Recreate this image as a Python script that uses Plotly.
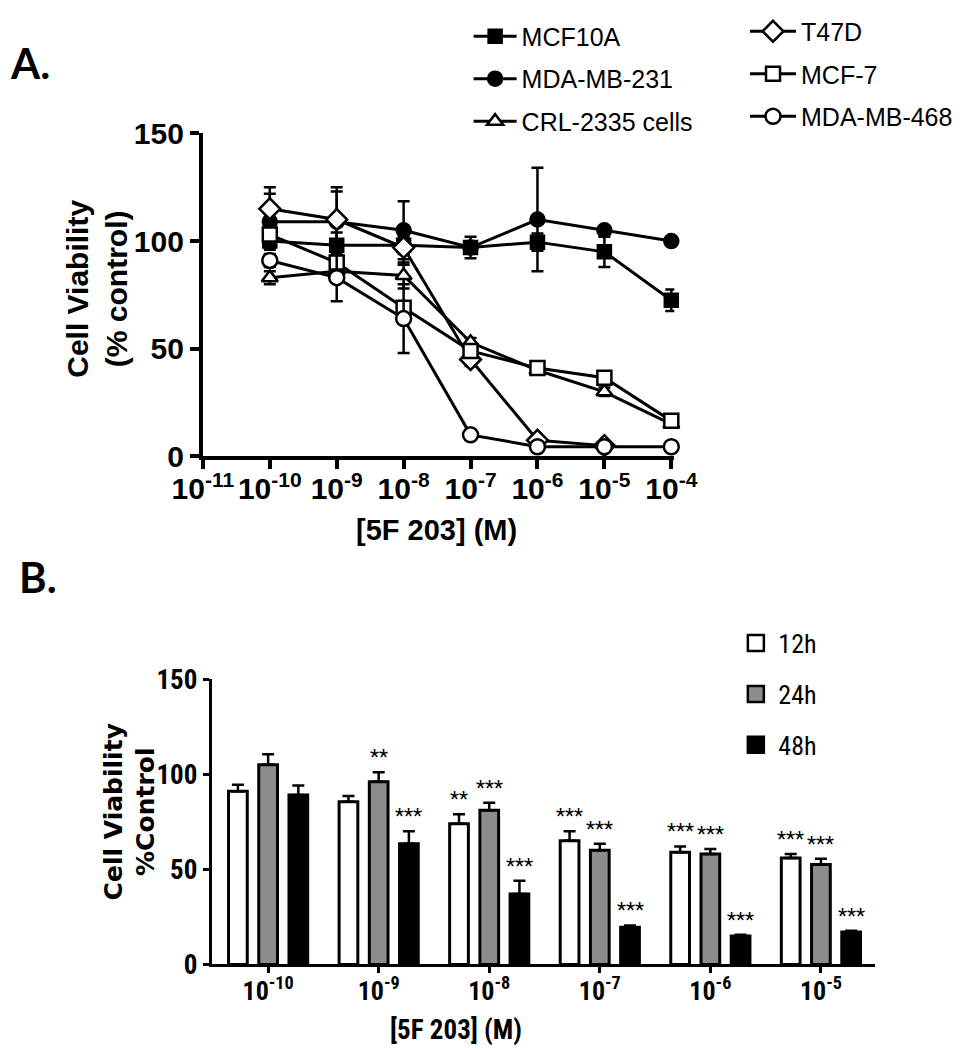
import plotly.graph_objects as go

# ---------------- Panel A data ----------------
conc_a = [1e-10, 1e-9, 1e-8, 1e-7, 1e-6, 1e-5, 1e-4]
a_tickvals = [1e-11, 1e-10, 1e-9, 1e-8, 1e-7, 1e-6, 1e-5, 1e-4]
a_ticktext = ["10<sup>-11</sup>", "10<sup>-10</sup>", "10<sup>-9</sup>", "10<sup>-8</sup>",
              "10<sup>-7</sup>", "10<sup>-6</sup>", "10<sup>-5</sup>", "10<sup>-4</sup>"]

mcf10a = [100, 98, 98, 97, 99.5, 95, 72.5]
mcf10a_err = [3, 6, 4, 5, 4, 7, 5]
mda231 = [109, 109, 105, 97, 110, 105, 100]
mda231_err = [13, 14, 13.5, 2, 24, 1, 1]
crl2335 = [83, 86, 84, 53, 40, 30, 15]
crl2335_err = [3, 3, 6, 2, 2, 2, 1.5]
t47d = [115, 110, 97, 45, 7.5, 5, None]
t47d_err = [10, 15, 8, 3, 1, 1, 0]
mcf7 = [103, 90, 69, 49, 41, 36.5, 16.5]
mcf7_err = [4, 3, 3, 2, 2, 1.5, 1]
mda468 = [91, 83, 64, 10, 4.5, 4.5, 4.5]
mda468_err = [3, 11, 16, 1, 0.5, 0.5, 0.5]

# ---------------- Panel B data ----------------
conc_b_labels = ["10<sup>-10</sup>", "10<sup>-9</sup>", "10<sup>-8</sup>",
                 "10<sup>-7</sup>", "10<sup>-6</sup>", "10<sup>-5</sup>"]
b_12h = [91, 85.5, 74, 65, 59, 56]
b_12h_err = [3.5, 3, 5, 5, 3, 2]
b_24h = [105, 96, 81, 60, 58, 52.5]
b_24h_err = [5.5, 5, 4, 3.5, 2.7, 3]
b_48h = [89, 63.5, 37, 19.5, 15, 17]
b_48h_err = [5, 6.5, 7, 1, 0.6, 0.7]
stars_12h = ["", "", "**", "***", "***", "***"]
stars_24h = ["", "**", "***", "***", "***", "***"]
stars_48h = ["", "***", "***", "***", "***", "***"]

# page body has an 8px margin; the figure starts 8px in from the top-left
OFF = 8
W, H = 966 - 2 * OFF, 1050 - OFF


def px(x):
    return (x - OFF) / W


def py(y):
    return 1 - (y - OFF) / H


BOLD = "Liberation Sans"
NARROW = "Liberation Sans Narrow, Roboto Condensed, Liberation Sans"

fig = go.Figure()

series = [
    ("MCF10A", mcf10a, mcf10a_err, "square", "black", 13, "legend"),
    ("MDA-MB-231", mda231, mda231_err, "circle", "black", 14, "legend"),
    ("CRL-2335 cells", crl2335, crl2335_err, "triangle-up", "white", 14, "legend"),
    ("T47D", t47d, t47d_err, "diamond", "white", 16, "legend2"),
    ("MCF-7", mcf7, mcf7_err, "square", "white", 14, "legend2"),
    ("MDA-MB-468", mda468, mda468_err, "circle", "white", 15, "legend2"),
]
for name, vals, errs, sym, fill, size, leg in series:
    fig.add_trace(go.Scatter(
        x=conc_a, y=vals, name=name, mode="lines+markers",
        line=dict(color="black", width=3),
        marker=dict(symbol=sym, size=size, color=fill,
                    line=dict(color="black", width=2.5)),
        error_y=dict(type="data", array=errs, visible=True, color="black",
                     thickness=2.5, width=6),
        xaxis="x", yaxis="y", legend=leg, legendgroup=name,
        cliponaxis=False,
    ))

# Panel B bars
bar_specs = [("12h", b_12h, b_12h_err, "white", stars_12h),
             ("24h", b_24h, b_24h_err, "#8c8c8c", stars_24h),
             ("48h", b_48h, b_48h_err, "black", stars_48h)]
xs = list(range(len(conc_b_labels)))
for name, vals, errs, col, _ in bar_specs:
    fig.add_trace(go.Bar(
        x=xs, y=vals, name=name, marker=dict(color=col, line=dict(color="black", width=3)),
        error_y=dict(type="data", array=errs, arrayminus=[0] * len(errs), visible=True,
                     color="black", thickness=2.5, width=6),
        xaxis="x2", yaxis="y2", showlegend=False,
    ))
    # legend swatch
    fig.add_trace(go.Scatter(
        x=[None], y=[None], name=name, mode="markers",
        marker=dict(symbol="square", size=22, color=col, line=dict(color="black", width=2.5)),
        xaxis="x2", yaxis="y2", legend="legend3", legendgroup="b" + name,
    ))

# significance stars
bargap, bargroupgap = 0.18, 0.38
slot = (1 - bargap) / 3
for i, (name, vals, errs, col, stars) in enumerate(bar_specs):
    off = (i - 1) * slot
    for j, s in enumerate(stars):
        if s:
            fig.add_annotation(x=xs[j] + off, y=vals[j] + errs[j], xref="x2", yref="y2",
                               text=s, showarrow=False, xanchor="center", yanchor="bottom",
                               yshift=1,
                               font=dict(family=NARROW, size=21, color="black"))

axis_common = dict(showgrid=False, zeroline=False, showline=True, linecolor="black",
                   ticks="outside", tickcolor="black", automargin=False)

fig.update_layout(
    width=W, height=H, template="none",
    paper_bgcolor="white", plot_bgcolor="rgba(0,0,0,0)",
    margin=dict(l=0, r=0, t=0, b=0),
    barmode="group", bargap=bargap, bargroupgap=bargroupgap,
    xaxis=dict(**axis_common, type="log", range=[-11, -3.955],
               domain=[px(206), px(685)], anchor="y",
               tickvals=a_tickvals, ticktext=a_ticktext,
               linewidth=4, tickwidth=4, ticklen=9, ticklabelstandoff=-6,
               tickfont=dict(family=BOLD, size=30, color="black", weight="bold")),
    yaxis=dict(**axis_common, range=[0, 150], domain=[py(443), py(112.7)], anchor="x",
               tickvals=[0, 50, 100, 150], linewidth=4, tickwidth=4, ticklen=9,
               tickfont=dict(family=BOLD, size=30, color="black", weight="bold")),
    xaxis2=dict(**axis_common, range=[-0.51, 5.49], domain=[px(215), px(889)], anchor="y2",
                tickvals=xs, ticktext=conc_b_labels, linewidth=3, tickwidth=3, ticklen=6,
                ticklabelstandoff=-5,
                tickfont=dict(family=NARROW, size=26, color="black", weight="bold")),
    yaxis2=dict(**axis_common, range=[0, 150], domain=[py(962.5), py(670.7)], anchor="x2",
                tickvals=[0, 50, 100, 150], linewidth=3, tickwidth=3, ticklen=6,
                tickfont=dict(family=NARROW, size=27, color="black", weight="bold")),
    legend=dict(x=px(476), y=py(-10), xanchor="left", yanchor="top", bgcolor="rgba(0,0,0,0)",
                font=dict(family="Liberation Sans", size=25, color="black"),
                tracegroupgap=7, itemsizing="trace", itemwidth=43),
    legend2=dict(x=px(757), y=py(-15), xanchor="left", yanchor="top", bgcolor="rgba(0,0,0,0)",
                 font=dict(family="Liberation Sans", size=25, color="black"),
                 tracegroupgap=7, itemsizing="trace", itemwidth=46),
    legend3=dict(x=px(745), y=py(610), xanchor="left", yanchor="top", bgcolor="rgba(0,0,0,0)",
                 font=dict(family=NARROW, size=26, color="black"),
                 tracegroupgap=14, itemsizing="trace", itemwidth=35),
)

# Titles and panel letters
fig.add_annotation(x=px(99), y=py(272), xref="paper", yref="paper", textangle=-90,
                   xanchor="center", yanchor="middle",
                   text="Cell Viability<br>(% control)", showarrow=False,
                   font=dict(family=BOLD, size=30, color="black", weight="bold"))
fig.add_annotation(x=px(443), y=py(518), xref="paper", yref="paper",
                   xanchor="center", yanchor="middle",
                   text="[5F 203] (M)", showarrow=False,
                   font=dict(family=BOLD, size=29, color="black", weight="bold"))
fig.add_annotation(x=px(132), y=py(807), xref="paper", yref="paper", textangle=-90,
                   xanchor="center", yanchor="middle",
                   text="Cell Viability<br>%Control", showarrow=False,
                   font=dict(family="DejaVu Sans", size=25, color="black", weight="bold"))
fig.add_annotation(x=px(463), y=py(1030), xref="paper", yref="paper",
                   xanchor="center", yanchor="middle",
                   text="[5F 203] (M)", showarrow=False,
                   font=dict(family=NARROW, size=27, color="black", weight="bold"))
fig.add_annotation(x=px(30), y=py(41), xref="paper", yref="paper",
                   xanchor="center", yanchor="middle",
                   text="A.", showarrow=False,
                   font=dict(family="Lato", size=42, color="black", weight="bold"))
fig.add_annotation(x=px(38), y=py(566), xref="paper", yref="paper",
                   xanchor="center", yanchor="middle",
                   text="B.", showarrow=False,
                   font=dict(family="Lato", size=42, color="black", weight="bold"))

fig.write_html("out.html")
